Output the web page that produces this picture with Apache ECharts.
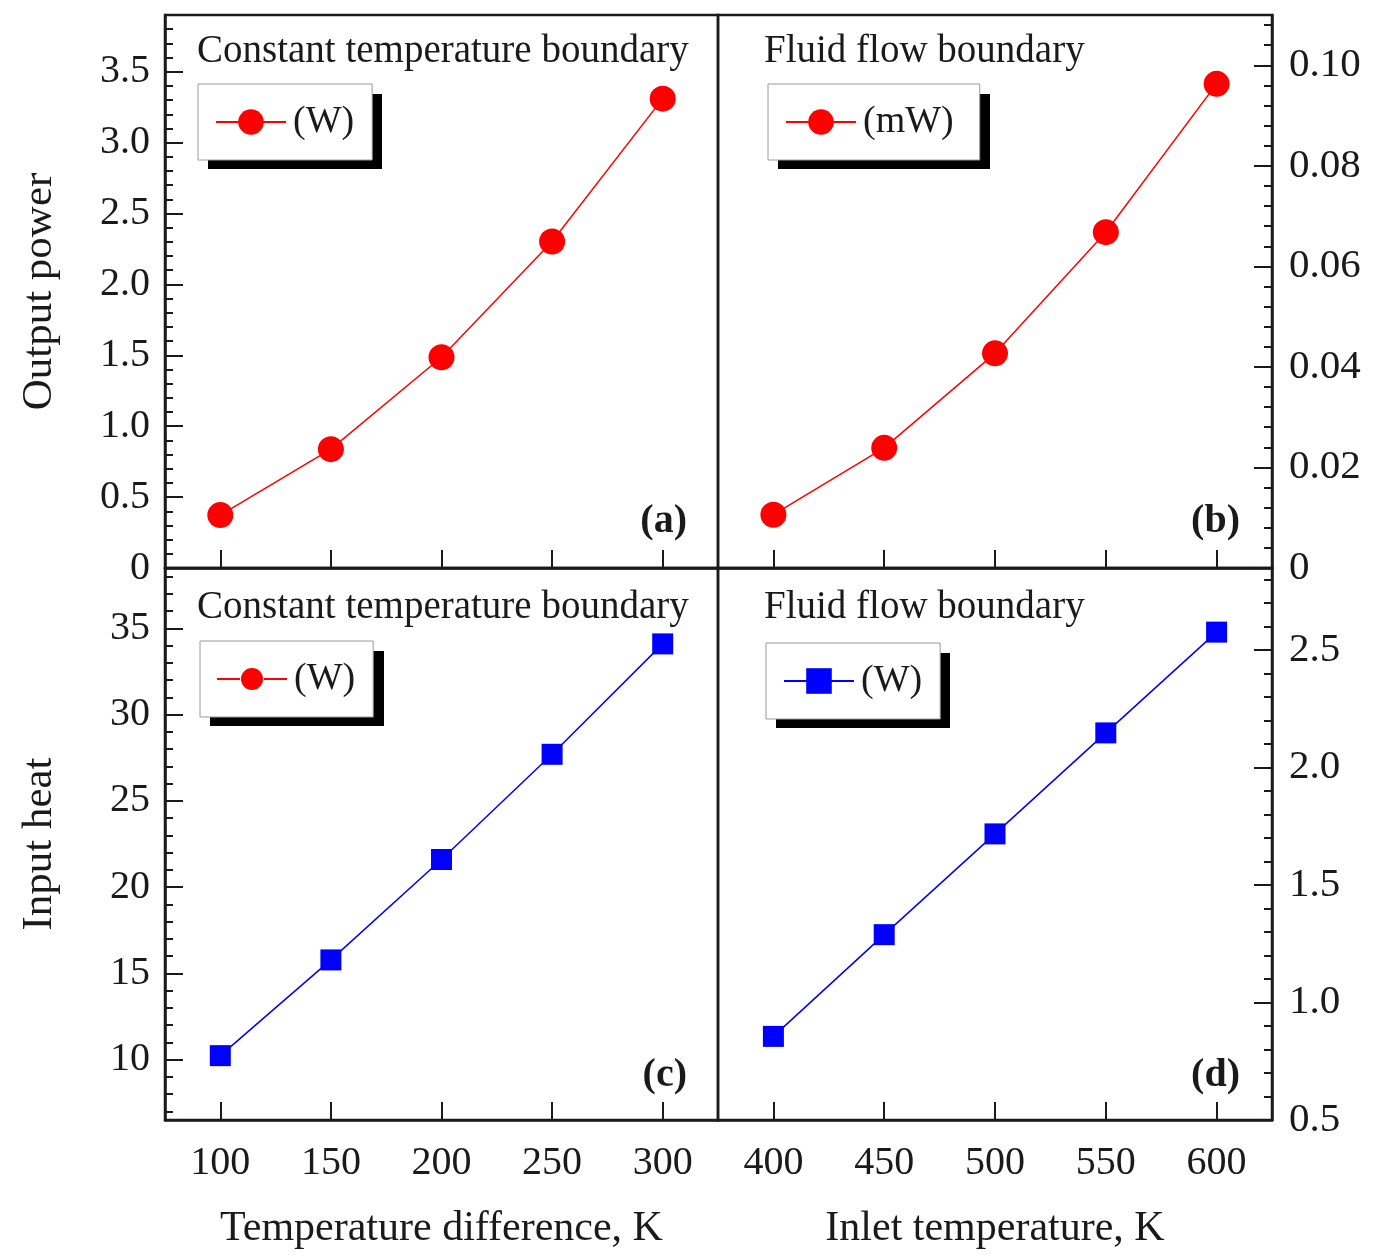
<!DOCTYPE html>
<html>
<head>
<meta charset="utf-8">
<script src="https://cdn.jsdelivr.net/npm/echarts@6/dist/echarts.min.js"></script>
<style>
  html, body { margin: 0; padding: 0; background: #fff; }
  #chart { width: 1374px; height: 1258px; }
</style>
</head>
<body>
<div id="chart"></div>
<script>
// ---- data ----
const tempDiff = [100, 150, 200, 250, 300];        // K, panels (a),(c)
const inletTemp = [400, 450, 500, 550, 600];       // K, panels (b),(d)
const powerConstT = [0.373, 0.838, 1.486, 2.303, 3.31];      // W
const powerFluid = [0.0106, 0.0239, 0.0427, 0.0668, 0.0963]; // mW
const heatConstT = [10.23, 15.78, 21.6, 27.7, 34.1];         // W
const heatFluid = [0.856, 1.289, 1.718, 2.148, 2.577];       // W

const panelTitles = ['Constant temperature boundary', 'Fluid flow boundary',
                     'Constant temperature boundary', 'Fluid flow boundary'];
const panelTags = ['(a)', '(b)', '(c)', '(d)'];
const seriesNames = ['Output power, constant temperature (W)', 'Output power, fluid flow (mW)',
                     'Input heat, constant temperature (W)', 'Input heat, fluid flow (W)'];

const FONT = "'Liberation Serif', 'Times New Roman', serif";
const INK = '#1a1a1a';
const RED = '#ff0000';
const BLUE = '#0000ff';

const pairs = (xs, ys) => xs.map((x, i) => [x, ys[i]]);

const grids = [
  { left: 165, top: 15, width: 553, height: 553 },
  { left: 718, top: 15, width: 554, height: 553 },
  { left: 165, top: 568, width: 553, height: 552 },
  { left: 718, top: 568, width: 554, height: 552 }
].map(g => Object.assign(g, { show: true, borderColor: INK, borderWidth: 2.5, backgroundColor: 'transparent', containLabel: false }));

function xAxisDef(idx, min, max, showLabels, name) {
  return {
    type: 'value', gridIndex: idx, min: min, max: max, splitNumber: 5,
    axisLine: { show: true, onZero: false, lineStyle: { color: INK, width: 2.5 } },
    axisTick: { show: true, inside: true, length: 18, lineStyle: { color: INK, width: 2 } },
    minorTick: { show: false },
    splitLine: { show: false },
    axisLabel: { show: showLabels, showMinLabel: false, showMaxLabel: false, margin: 23,
                 fontFamily: FONT, fontSize: 40, color: INK },
    name: name || '', nameLocation: 'middle', nameGap: 88,
    nameTextStyle: { fontFamily: FONT, fontSize: 42, color: INK }
  };
}

function yAxisDef(idx, min, max, split, pos, fmt, showMin, name) {
  return {
    type: 'value', gridIndex: idx, min: min, max: max, splitNumber: split, position: pos,
    axisLine: { show: true, onZero: false, lineStyle: { color: INK, width: 2.5 } },
    axisTick: { show: true, inside: true, length: 18, lineStyle: { color: INK, width: 2 } },
    minorTick: { show: true, splitNumber: 5, length: 8, lineStyle: { color: INK, width: 2 } },
    splitLine: { show: false },
    axisLabel: { show: true, showMinLabel: showMin, showMaxLabel: false, margin: pos === 'left' ? 15 : 17,
                 fontFamily: FONT, fontSize: pos === 'left' ? 40 : 41, color: INK, formatter: fmt },
    name: name || '', nameLocation: 'middle', nameGap: 104,
    nameTextStyle: { fontFamily: FONT, fontSize: 43, color: INK }
  };
}

const legendCommon = {
  orient: 'horizontal', selectedMode: false, z: 5,
  itemWidth: 70, itemHeight: 32, itemGap: 0,
  padding: [19, 18, 19, 17],
  backgroundColor: '#ffffff', borderColor: '#9a9a9a', borderWidth: 1,
  textStyle: { fontFamily: FONT, fontSize: 38, color: INK, padding: [0, 0, 0, 2] },
  formatter: n => n.match(/\([^)]*\)/)[0]
};

// hard drop-shadow boxes behind the legends (style only)
const shadowBoxes = [
  [208, 94, 174, 75], [778, 94, 212, 75], [210, 651, 174, 75], [776, 653, 174, 75]
].map(b => ({ type: 'rect', z: 1, silent: true, shape: { x: b[0], y: b[1], width: b[2], height: b[3] },
             style: { fill: '#000000' } }));

const titleStyle = { fontFamily: FONT, fontSize: 39, fontWeight: 'normal', color: INK };
const tagStyle = { fontFamily: FONT, fontSize: 40, fontWeight: 'bold', color: INK };

const option = {
  backgroundColor: '#ffffff',
  animation: false,
  grid: grids,
  graphic: shadowBoxes,
  title: [
    { text: panelTitles[0], left: 197, top: 32, padding: 0, textStyle: titleStyle },
    { text: panelTitles[1], left: 764, top: 32, padding: 0, textStyle: titleStyle },
    { text: panelTitles[2], left: 197, top: 588, padding: 0, textStyle: titleStyle },
    { text: panelTitles[3], left: 764, top: 588, padding: 0, textStyle: titleStyle }
  ].concat([
    { text: panelTags[0], right: 687, top: 502, padding: 0, textStyle: tagStyle },
    { text: panelTags[1], right: 134, top: 502, padding: 0, textStyle: tagStyle },
    { text: panelTags[2], right: 687, top: 1056, padding: 0, textStyle: tagStyle },
    { text: panelTags[3], right: 134, top: 1056, padding: 0, textStyle: tagStyle }
  ]),
  legend: [
    Object.assign({}, legendCommon, { left: 198, top: 84, data: [seriesNames[0]] }),
    Object.assign({}, legendCommon, { left: 768, top: 84, padding: [19, 26, 19, 17], data: [seriesNames[1]] }),
    Object.assign({}, legendCommon, { left: 200, top: 641, data: [{
      name: seriesNames[2],
      icon: 'path://M0,10L23,10L23,12L0,12Z M47,10L70,10L70,12L47,12Z M24,11A11,11 0 1,1 46,11A11,11 0 1,1 24,11Z',
      itemStyle: { color: RED }
    }] }),
    Object.assign({}, legendCommon, { left: 766, top: 643, data: [seriesNames[3]] })
  ],
  xAxis: [
    xAxisDef(0, 75, 325, false),
    xAxisDef(1, 375, 625, false),
    xAxisDef(2, 75, 325, true, 'Temperature difference, K'),
    xAxisDef(3, 375, 625, true, 'Inlet temperature, K')
  ],
  yAxis: [
    yAxisDef(0, 0, 3.9, 8, 'left', v => v === 0 ? '0' : v.toFixed(1), true, 'Output power'),
    yAxisDef(1, 0, 0.11, 5, 'right', v => v === 0 ? '0' : v.toFixed(2), true),
    yAxisDef(2, 6.5, 38.5, 6, 'left', v => String(v), false, 'Input heat'),
    yAxisDef(3, 0.5, 2.85, 5, 'right', v => v.toFixed(1), true)
  ],
  series: [
    { name: seriesNames[0], type: 'line', xAxisIndex: 0, yAxisIndex: 0, data: pairs(tempDiff, powerConstT),
      symbol: 'circle', symbolSize: 26, itemStyle: { color: RED }, lineStyle: { color: RED, width: 1.5 } },
    { name: seriesNames[1], type: 'line', xAxisIndex: 1, yAxisIndex: 1, data: pairs(inletTemp, powerFluid),
      symbol: 'circle', symbolSize: 26, itemStyle: { color: RED }, lineStyle: { color: RED, width: 1.5 } },
    { name: seriesNames[2], type: 'line', xAxisIndex: 2, yAxisIndex: 2, data: pairs(tempDiff, heatConstT),
      symbol: 'rect', symbolSize: 21, itemStyle: { color: BLUE }, lineStyle: { color: BLUE, width: 1.5 } },
    { name: seriesNames[3], type: 'line', xAxisIndex: 3, yAxisIndex: 3, data: pairs(inletTemp, heatFluid),
      symbol: 'rect', symbolSize: 21, itemStyle: { color: BLUE }, lineStyle: { color: BLUE, width: 1.5 } }
  ]
};

const chart = echarts.init(document.getElementById('chart'), null, { renderer: 'canvas' });
chart.setOption(option);
</script>
</body>
</html>
